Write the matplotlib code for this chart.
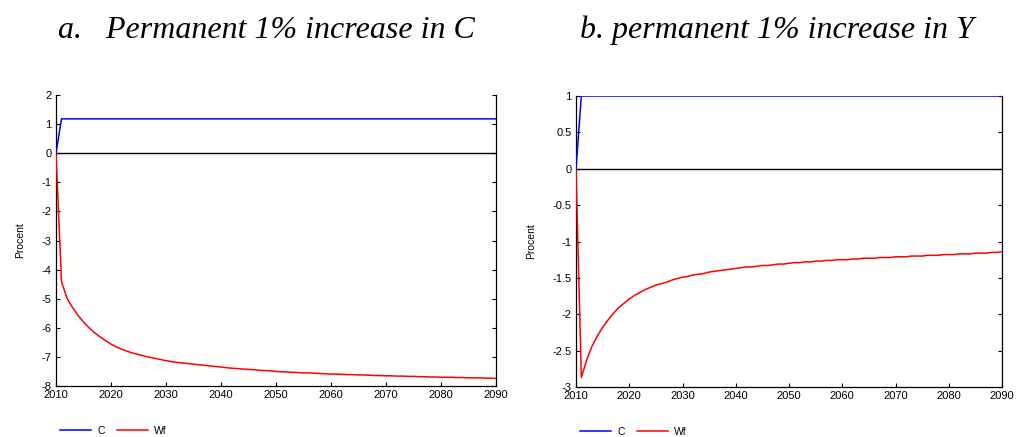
import matplotlib
matplotlib.use("Agg")
import matplotlib.pyplot as plt
import numpy as np

years = list(range(2010, 2091))

# Panel a: permanent 1% increase in C
c_a = [0.0] + [1.18] * 80
wf_a = [0.0, -4.42, -4.98, -5.30, -5.57, -5.80, -6.00, -6.17, -6.31, -6.44,
        -6.56, -6.66, -6.74, -6.81, -6.87, -6.92, -6.97, -7.01, -7.05, -7.09,
        -7.13, -7.16, -7.19, -7.21, -7.23, -7.25, -7.27, -7.29, -7.31, -7.33,
        -7.35, -7.37, -7.39, -7.40, -7.42, -7.43, -7.44, -7.46, -7.47, -7.48,
        -7.50, -7.51, -7.52, -7.53, -7.54, -7.55, -7.55, -7.56, -7.57, -7.58,
        -7.59, -7.59, -7.60, -7.61, -7.61, -7.62, -7.62, -7.63, -7.64, -7.64,
        -7.65, -7.65, -7.66, -7.66, -7.67, -7.67, -7.68, -7.68, -7.69, -7.69,
        -7.70, -7.70, -7.70, -7.71, -7.71, -7.72, -7.72, -7.72, -7.73, -7.73,
        -7.74]

# Panel b: permanent 1% increase in Y
c_b = [0.0] + [1.0] * 80
wf_b = [0.0, -2.87, -2.63, -2.44, -2.30, -2.18, -2.08, -1.99, -1.91, -1.85,
        -1.79, -1.74, -1.70, -1.66, -1.63, -1.60, -1.58, -1.56, -1.53, -1.51,
        -1.49, -1.48, -1.46, -1.45, -1.44, -1.42, -1.41, -1.40, -1.39, -1.38,
        -1.37, -1.36, -1.35, -1.35, -1.34, -1.33, -1.33, -1.32, -1.31, -1.31,
        -1.30, -1.29, -1.29, -1.28, -1.28, -1.27, -1.27, -1.26, -1.26, -1.25,
        -1.25, -1.25, -1.24, -1.24, -1.23, -1.23, -1.23, -1.22, -1.22, -1.22,
        -1.21, -1.21, -1.21, -1.20, -1.20, -1.20, -1.19, -1.19, -1.19, -1.18,
        -1.18, -1.18, -1.17, -1.17, -1.17, -1.16, -1.16, -1.16, -1.15, -1.15,
        -1.14]

xticks = [2010, 2020, 2030, 2040, 2050, 2060, 2070, 2080, 2090]
yticks_a = [2, 1, 0, -1, -2, -3, -4, -5, -6, -7, -8]
yticks_b = [1, 0.5, 0, -0.5, -1, -1.5, -2, -2.5, -3]
ytick_labels_b = ["1", "0.5", "0", "-0.5", "-1", "-1.5", "-2", "-2.5", "-3"]

titles = ["a.   Permanent 1% increase in C", "b. permanent 1% increase in Y"]

plt.rcParams['font.family'] = ['Liberation Sans', 'DejaVu Sans']

fig = plt.figure(figsize=(10.17, 4.37), dpi=100)
ax1 = fig.add_axes([56/1017, 1-386/437, 440/1017, 291/437])
ax2 = fig.add_axes([576/1017, 1-387/437, 426/1017, 291/437])

panels = [
    (ax1, c_a, wf_a, yticks_a, [str(v) for v in yticks_a], (-8, 2)),
    (ax2, c_b, wf_b, yticks_b, ytick_labels_b, (-3, 1)),
]

for ax, c, wf, yt, ytl, ylim in panels:
    ax.axhline(0, color='black', lw=1.0, zorder=1)
    ax.plot(years, c, color='#0000ff', lw=1.1, label='C', zorder=3)
    ax.plot(years, wf, color='#ff0000', lw=1.1, label='Wf', zorder=3)
    ax.set_xlim(2010, 2090)
    ax.set_ylim(*ylim)
    ax.set_xticks(xticks)
    ax.set_yticks(yt)
    ax.set_yticklabels(ytl)
    ax.tick_params(axis='both', direction='in', length=3, width=0.8,
                   labelsize=8, pad=3, right=True, top=False)
    for s in ax.spines.values():
        s.set_linewidth(0.9)
    ax.spines['top'].set_visible(False)
    ax.set_ylabel('Procent', fontsize=7.5, labelpad=12)
    ax.legend(loc='upper left', bbox_to_anchor=(-0.005, -0.115), ncol=2,
              frameon=False, fontsize=7.5, handlelength=3.0,
              handletextpad=0.6, columnspacing=1.1, borderaxespad=0.2)

fig.text(266/1017, 1-30/437, titles[0], fontsize=23, family='Liberation Serif',
         style='italic', ha='center', va='center')
fig.text(777/1017, 1-30/437, titles[1], fontsize=23, family='Liberation Serif',
         style='italic', ha='center', va='center')

fig.savefig('out.png', dpi=100)
